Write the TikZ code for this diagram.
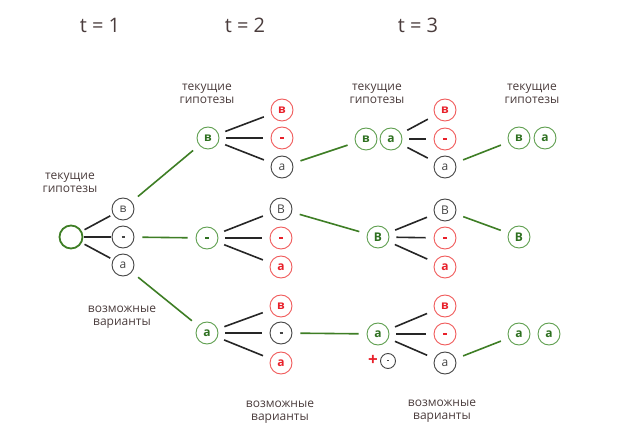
\documentclass[tikz,border=0pt]{standalone}
\usepackage{fontspec}
\setmainfont{Open Sans}
\definecolor{lbl}{HTML}{4A3C3C}
\definecolor{gline}{HTML}{3E7E25}
\definecolor{gcirc}{HTML}{5E9E4E}
\definecolor{gtxt}{HTML}{2E7020}
\definecolor{rcirc}{HTML}{F05A5A}
\definecolor{rtxt}{HTML}{E8202A}
\definecolor{kcirc}{HTML}{444444}
\newcommand{\bdash}{\rule[-0.8pt]{4pt}{1.6pt}}
\newcommand{\ldash}{\rule[-0.6pt]{3pt}{1.1pt}}
\tikzset{
  base/.style={circle, minimum size=22pt, inner sep=0pt, line width=0.9pt, font=\fontsize{12}{12}\selectfont\bfseries},
  gn/.style={base, draw=gcirc, text=gtxt},
  rn/.style={base, draw=rcirc, text=rtxt},
  kn/.style={base, draw=kcirc, text=kcirc, font=\fontsize{12}{12}\selectfont},
  lab/.style={text=lbl, align=center, font=\fontsize{12}{13.5}\selectfont},
  tlab/.style={text=lbl, font=\fontsize{20}{20}\selectfont},
  bl/.style={line width=1.6pt, black!85},
  gl/.style={line width=1.6pt, gline},
}
\begin{document}
\begin{tikzpicture}[x=1pt,y=-1pt]
\useasboundingbox (0,0) rectangle (621,443);
% time labels
\node[tlab] (t1) at (100,25) {t = 1};
\node[tlab] (t2) at (245,25) {t = 2};
\node[tlab] (t3) at (418,25) {t = 3};
% text labels
\node[lab] (c1) at (70,183) {текущие\\гипотезы};
\node[lab] (v1) at (122,317) {возможные\\варианты};
\node[lab] (c2) at (207,94) {текущие\\гипотезы};
\node[lab] (c3) at (377,94) {текущие\\гипотезы};
\node[lab] (c4) at (532,94) {текущие\\гипотезы};
\node[lab] (v2) at (280,412) {возможные\\варианты};
\node[lab] (v3) at (442,411) {возможные\\варианты};
% t = 1
\node[base, draw=gline, line width=1.8pt, minimum size=23pt] (r) at (71,237) {};
\node[kn] (a1) at (123,209) {в};
\node[kn] (a2) at (123,237) {\ldash};
\node[kn] (a3) at (123,265) {а};
\draw[bl, shorten <=3pt, shorten >=3pt] (r) -- (a1);
\draw[bl, shorten <=1pt, shorten >=1pt] (r) -- (a2);
\draw[bl, shorten <=3pt, shorten >=3pt] (r) -- (a3);
% t = 2 top
\node[gn] (b1) at (208,138) {в};
\node[rn] (b1v) at (282,110) {в};
\node[rn] (b1m) at (282,138) {\bdash};
\node[kn] (b1a) at (282,167) {а};
% t = 2 mid
\node[gn] (b2) at (207,238) {\bdash};
\node[kn] (b2v) at (281,209) {В};
\node[rn] (b2m) at (281,238) {\bdash};
\node[rn] (b2a) at (281,267) {а};
% t = 2 bottom
\node[gn] (b3) at (207,333) {а};
\node[rn] (b3v) at (281,306) {в};
\node[kn] (b3m) at (281,333) {\ldash};
\node[rn] (b3a) at (281,363) {а};
% t = 3 top
\node[gn] (c1v) at (366,139) {в};
\node[gn] (c1a) at (391,139) {а};
\node[rn] (c1vv) at (445,110) {в};
\node[rn] (c1vm) at (445,139) {\bdash};
\node[kn] (c1va) at (445,167) {а};
% t = 3 mid
\node[gn] (c2v) at (378,237) {В};
\node[kn] (c2vv) at (445,210) {В};
\node[rn] (c2vm) at (445,238) {\bdash};
\node[rn] (c2va) at (445,267) {а};
% t = 3 bottom
\node[gn] (c3a) at (378,334) {а};
\node[rn] (c3av) at (445,306) {в};
\node[rn] (c3am) at (445,334) {\bdash};
\node[kn] (c3aa) at (445,363) {а};
\node[kn, minimum size=15pt] (sm) at (388,361) {\rule[-0.5pt]{2.5pt}{1pt}};
\node[text=rtxt, font=\fontsize{17}{17}\selectfont\bfseries, inner sep=0pt] (pl) at (373,360) {+};
% final
\node[gn] (d1v) at (519,138) {в};
\node[gn] (d1a) at (545,138) {а};
\node[gn] (d2v) at (519,237) {В};
\node[gn] (d3a) at (519,334) {а};
\node[gn] (d3b) at (549,334) {а};
% black branches
\foreach \p/\q in {b1/b1v,b1/b1m,b1/b1a,b2/b2v,b2/b2m,b2/b2a,b3/b3v,b3/b3m,b3/b3a,
                   c1a/c1vv,c1a/c1vm,c1a/c1va,c2v/c2vv,c2v/c2vm,c2v/c2va,c3a/c3av,c3a/c3am,c3a/c3aa}
  \draw[bl, shorten <=7pt, shorten >=8pt] (\p) -- (\q);
% green connectors
\foreach \p/\q in {a1/b1,a2/b2,a3/b3,b1a/c1v,b2v/c2v,b3m/c3a,c1va/d1v,c2vv/d2v,c3aa/d3a}
  \draw[gl, shorten <=8pt, shorten >=8pt] (\p) -- (\q);
\end{tikzpicture}
\end{document}
